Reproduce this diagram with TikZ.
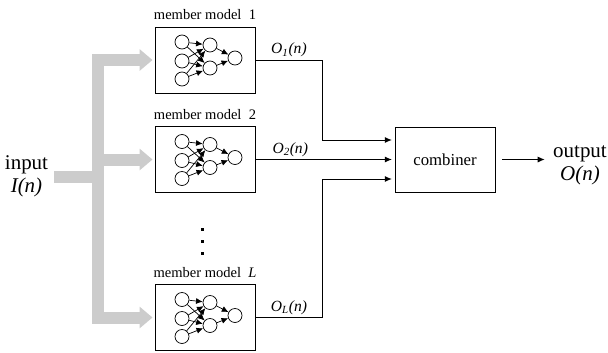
\documentclass[tikz,border=0pt]{standalone}
\usepackage{fontspec}
\setmainfont{Liberation Serif}
\usetikzlibrary{positioning,arrows.meta}

\tikzset{
  member/.style={draw,line width=0.8pt,minimum width=3cm,minimum height=1.98cm,inner sep=0pt},
  neuron/.style={draw,circle,line width=0.6pt,minimum size=0.42cm,inner sep=0pt},
  syn/.style={-{Latex[length=2mm,width=1.8mm]},line width=0.6pt},
  feed/.style={gray!40,line width=0.36cm,-{Triangle[length=0.39cm,width=0.63cm]}},
  link/.style={-{Latex[length=2.1mm,width=1.8mm]},line width=0.8pt},
  mlab/.style={font=\fontsize{12.4}{14}\selectfont},
  olab/.style={font=\fontsize{13.3}{15}\selectfont\itshape,inner sep=2pt},
  big/.style={font=\fontsize{17.9}{19.6}\selectfont,align=center},
}

% small 3-2-1 network drawn inside a member box
\newcommand{\memnet}[1]{%
  \begin{scope}[shift={(#1.center)}]
    \foreach \y [count=\k] in {-18,1,19}
      \node[neuron] (#1-i\k) at (-23,\y) {};
    \foreach \y [count=\k] in {-15,8}
      \node[neuron] (#1-h\k) at (5,\y) {};
    \node[neuron] (#1-o) at (30,-2) {};
  \end{scope}
  \foreach \a in {1,2,3}
    \foreach \b in {1,2}
      \draw[syn] (#1-i\a) -- (#1-h\b);
  \foreach \b in {1,2}
    \draw[syn] (#1-h\b) -- (#1-o);
}

\begin{document}
\begin{tikzpicture}[x=0.03cm,y=-0.03cm]
  \useasboundingbox (0,0) rectangle (608,352);

  % member models
  \foreach \m/\y/\lab in {1/60/1, 2/159.5/2, L/317.5/\textit{L}} {
    \node[member] (m\m) at (205,\y) {};
    \node[mlab,above=2pt of m\m] (t\m) {member model\enspace\lab};
    \memnet{m\m}
  }

  \foreach \y in {229,241,253}
    \fill (202,\y) +(-1.5,-1.5) rectangle +(1.5,1.5);

  \node[big] (in) at (26.5,176.5) {input\\\textit{I(n)}};
  \node[draw,line width=0.8pt,minimum width=3cm,minimum height=1.95cm,
        font=\fontsize{14.3}{16}\selectfont] (comb) at (445,159.5) {combiner};
  \node[big] (out) at (580,165) {output\\\textit{O(n)}};

  % input distribution
  \coordinate (fork) at (98,159.5);
  \draw[gray!40,line width=0.36cm,shorten <=0.06cm] (in.east) -- (in.east -| fork);
  \draw[feed,shorten >=0.06cm] (fork) |- (m1.west);
  \draw[feed,shorten >=0.06cm] (fork) -- (m2.west);
  \draw[feed,shorten >=0.06cm] (fork) |- (mL.west);

  % member outputs into the combiner
  \draw[link,shorten >=0.08cm] (m1.east) -- ++(67,0) node[midway,above,olab] (o1) {O\textsubscript{1}(n)}
    |- ([yshift=0.585cm]comb.west);
  \draw[link,shorten >=0.08cm] (m2.east) -- (comb.west) node[pos=0.25,above,olab] (o2) {O\textsubscript{2}(n)};
  \draw[link,shorten >=0.08cm] (mL.east) -- ++(67,0) node[midway,above,olab] (oL) {O\textsubscript{L}(n)}
    |- ([yshift=-0.585cm]comb.west);

  \draw[link,shorten <=0.21cm,shorten >=0.13cm] (comb.east) -- (comb.east -| out.west);
\end{tikzpicture}
\end{document}
